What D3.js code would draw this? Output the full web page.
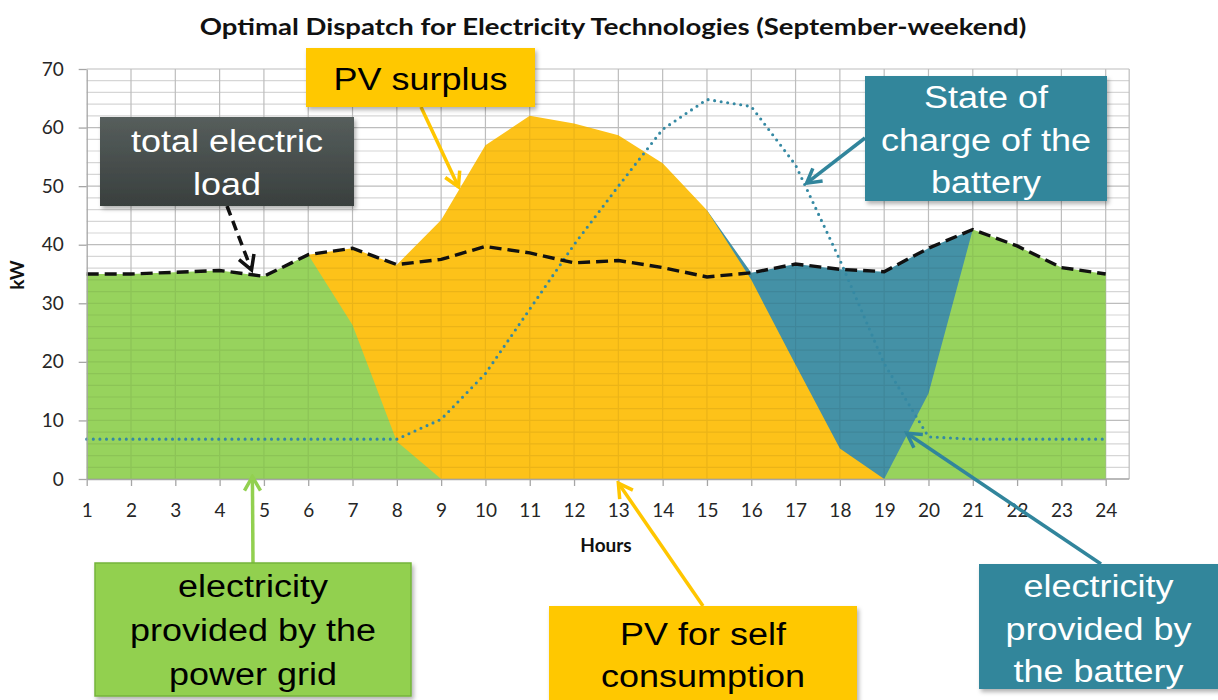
<!DOCTYPE html>
<html>
<head>
<meta charset="utf-8">
<script src="https://cdn.jsdelivr.net/npm/d3@7"></script>
<style>
  body { margin: 0; background: #fff; }
  svg { display: block; }
  .tick text { font-family: Lato, "Open Sans", sans-serif; font-size: 19px; fill: #262626; }
</style>
</head>
<body>
<div id="chart"></div>
<script>
// values (kW per hour)
var hours = d3.range(1, 25);
var yTicks = [0, 10, 20, 30, 40, 50, 60, 70];
var totalLoad = [35, 35, 35.3, 35.6, 34.6, 38.3, 39.4, 36.6, 37.5, 39.7, 38.6, 36.9,
                 37.3, 36.1, 34.5, 35.2, 36.7, 35.8, 35.4, 39.4, 42.6, 39.8, 36.1, 35];
var gridSupply = [35, 35, 35.3, 35.6, 34.6, 38.3, 26.3, 6.4, 0, 0, 0, 0,
                  0, 0, 0, 0, 0, 0, 0, 14.6, 42.6, 39.8, 36.1, 35];
var pvTotal = [0, 0, 0, 0, 0, 38.3, 39.4, 36.6, 44.2, 57, 62, 60.7,
               58.7, 53.9, 45.9, 34, 19.5, 5.2, 0, 0, 0, 0, 0, 0];
var batterySupply = [0, 0, 0, 0, 0, 0, 0, 0, 0, 0, 0, 0,
                     0, 0, 45.9, 35.2, 36.7, 35.8, 35.4, 39.4, 42.6, 0, 0, 0];
var stateOfCharge = [6.8, 6.8, 6.8, 6.8, 6.8, 6.8, 6.8, 6.8, 10.2, 18, 29, 40,
                     50, 59.7, 64.8, 63.6, 53.6, 37.4, 19.7, 7.2, 6.8, 6.8, 6.8, 6.8];

var width = 1218, height = 700;
var svg = d3.select("#chart").append("svg")
    .attr("width", width).attr("height", height);

var x = d3.scaleLinear().domain([1, 24]).range([86.7, 1105.7]);
var y = d3.scaleLinear().domain([0, 70]).range([479, 69]);
var xEnd = x(24.53);

var defs = svg.append("defs");
var shadow = defs.append("filter").attr("id", "shadow")
    .attr("x", "-10%").attr("y", "-10%").attr("width", "130%").attr("height", "140%");
shadow.append("feDropShadow").attr("dx", 2).attr("dy", 3).attr("stdDeviation", 2)
    .attr("flood-color", "#000").attr("flood-opacity", 0.3);
var grad = defs.append("linearGradient").attr("id", "darkbox")
    .attr("x1", 0).attr("y1", 0).attr("x2", 0).attr("y2", 1);
grad.append("stop").attr("offset", "0%").attr("stop-color", "#565e5c");
grad.append("stop").attr("offset", "100%").attr("stop-color", "#393f3e");

function arrowMarker(id, color) {
    defs.append("marker").attr("id", id)
        .attr("viewBox", "0 0 20 20").attr("refX", 17).attr("refY", 10)
        .attr("markerUnits", "userSpaceOnUse")
        .attr("markerWidth", 20).attr("markerHeight", 20)
        .attr("orient", "auto")
      .append("path").attr("d", "M3,2 L17,10 L3,18")
        .attr("fill", "none").attr("stroke", color).attr("stroke-width", 3.5);
}
arrowMarker("arrYellow", "#ffc600");
arrowMarker("arrBlack", "#111");
arrowMarker("arrTeal", "#31859c");
arrowMarker("arrGreen", "#92d050");

function areaOf(values) {
    return d3.area()
        .x(function (d, i) { return x(hours[i]); })
        .y0(y(0))
        .y1(function (d) { return y(d); })(values);
}

function drawGrid(g, minorColor, majorColor) {
    g.selectAll("line.h").data(d3.range(0, 71, 2)).enter().append("line")
        .attr("x1", x(1)).attr("x2", xEnd)
        .attr("y1", function (d) { return y(d); }).attr("y2", function (d) { return y(d); })
        .attr("stroke", function (d) { return d % 10 === 0 ? majorColor : minorColor; })
        .attr("stroke-width", 1.2);
    g.selectAll("line.v").data(hours.slice(1).concat([24.53])).enter().append("line")
        .attr("x1", function (d) { return x(d); }).attr("x2", function (d) { return x(d); })
        .attr("y1", y(70)).attr("y2", y(0))
        .attr("stroke", majorColor).attr("stroke-width", 1.2);
}

// gridlines on white
drawGrid(svg.append("g"), "#d6d6d6", "#bdbdbd");

// areas: battery, then PV, then grid on top
svg.append("path").attr("d", areaOf(batterySupply)).attr("fill", "#4491a6");
svg.append("path").attr("d", areaOf(pvTotal)).attr("fill", "#fdc219");
svg.append("path").attr("d", areaOf(gridSupply)).attr("fill", "#97d35d");

// faint gridlines showing through the filled areas
var clip = defs.append("clipPath").attr("id", "areaClip");
[batterySupply, pvTotal, gridSupply].forEach(function (v) {
    clip.append("path").attr("d", areaOf(v));
});
var overGrid = svg.append("g").attr("clip-path", "url(#areaClip)").attr("opacity", 0.07);
drawGrid(overGrid, "#000", "#000");

var line = d3.line().x(function (d, i) { return x(hours[i]); }).y(function (d) { return y(d); });
svg.append("path").attr("d", line(stateOfCharge))
    .attr("fill", "none").attr("stroke", "#3589a3").attr("stroke-width", 3.1)
    .attr("stroke-linecap", "round").attr("stroke-dasharray", "0,6.6");
svg.append("path").attr("d", line(totalLoad))
    .attr("fill", "none").attr("stroke", "#111").attr("stroke-width", 3.4)
    .attr("stroke-dasharray", "12,6");

// axes
var xAxis = svg.append("g").attr("transform", "translate(0," + y(0) + ")")
    .call(d3.axisBottom(x).tickValues(hours).tickSize(7).tickSizeOuter(0).tickPadding(18)
        .tickFormat(d3.format("d")));
var yAxis = svg.append("g").attr("transform", "translate(" + x(1) + ",0)")
    .call(d3.axisLeft(y).tickValues(yTicks).tickSize(8).tickSizeOuter(0).tickPadding(15));
[xAxis, yAxis].forEach(function (a) {
    a.select(".domain").attr("stroke", "#a6a6a6").attr("stroke-width", 1.3);
    a.selectAll(".tick line").attr("stroke", "#a6a6a6").attr("stroke-width", 1.3);
});
svg.append("line").attr("x1", x(24)).attr("x2", xEnd).attr("y1", y(0)).attr("y2", y(0))
    .attr("stroke", "#a6a6a6").attr("stroke-width", 1.3);

svg.append("text").text("Hours")
    .attr("x", 606).attr("y", 552).attr("text-anchor", "middle")
    .style("font-family", "Lato, sans-serif").style("font-weight", "bold").style("font-size", "19px")
    .attr("fill", "#111");
svg.append("text").text("kW")
    .attr("transform", "translate(24,275) rotate(-90)").attr("text-anchor", "middle")
    .style("font-family", "Lato, sans-serif").style("font-weight", "bold").style("font-size", "19px")
    .attr("fill", "#111");

// title, fitted to the reference width
var title = svg.append("text").text("Optimal Dispatch for Electricity Technologies (September-weekend)")
    .attr("text-anchor", "middle")
    .style("font-family", "Lato, sans-serif").style("font-weight", "bold").style("font-size", "22px")
    .attr("fill", "#111");
var tw = title.node().getComputedTextLength();
title.attr("transform", "translate(613,35) scale(" + (827 / tw) + ",1)");

// annotation boxes (layout in pixels) and arrows anchored in data space
var notes = [
    { lines: ["PV surplus"], box: [306, 48, 229, 59], fill: "#ffc800", color: "#000",
      base: [90], from: [421, 107], to: [9.39, 49.9], marker: "arrYellow", stroke: "#ffc600" },
    { lines: ["total electric", "load"], box: [100, 117, 254, 89], fill: "url(#darkbox)", color: "#fff",
      base: [152, 195], from: [227, 206], to: [4.72, 35.7], marker: "arrBlack", stroke: "#111", dash: "10,6" },
    { lines: ["State of", "charge of the", "battery"], box: [865, 76, 242, 125], fill: "#31869b", color: "#fff",
      base: [108, 151, 193], from: [865, 138], to: [17.25, 50.5], marker: "arrTeal", stroke: "#31859c" },
    { lines: ["electricity", "provided by the", "power grid"], box: [95, 563, 316, 133], fill: "#92d050", color: "#000",
      base: [597, 641, 685], from: [253, 563], to: [4.74, 0.4], marker: "arrGreen", stroke: "#92d050",
      border: "#74b43a" },
    { lines: ["PV for self", "consumption"], box: [549, 606, 308, 100], fill: "#ffc800", color: "#000",
      base: [645, 687], from: [703, 606], to: [13.0, -0.7], marker: "arrYellow", stroke: "#ffc600" },
    { lines: ["electricity", "provided by", "the battery"], box: [979, 564, 245, 125], fill: "#31869b", color: "#fff",
      base: [597, 640, 682], from: [1101, 564], to: [19.51, 7.8], marker: "arrTeal", stroke: "#31859c" }
];

var noteG = svg.append("g");
notes.forEach(function (n) {
    noteG.append("line")
        .attr("x1", n.from[0]).attr("y1", n.from[1])
        .attr("x2", x(n.to[0])).attr("y2", y(n.to[1]))
        .attr("stroke", n.stroke).attr("stroke-width", 3.5)
        .attr("stroke-dasharray", n.dash || null)
        .attr("marker-end", "url(#" + n.marker + ")");
});
notes.forEach(function (n) {
    var g = noteG.append("g");
    g.append("rect")
        .attr("x", n.box[0]).attr("y", n.box[1]).attr("width", n.box[2]).attr("height", n.box[3])
        .attr("fill", n.fill).attr("filter", "url(#shadow)")
        .attr("stroke", n.border || "none").attr("stroke-width", 1.5);
    var cx = n.box[0] + n.box[2] / 2;
    if (n.box[0] + n.box[2] > width) cx = n.box[0] + (width - n.box[0]) / 2;
    n.lines.forEach(function (t, i) {
        g.append("text").text(t)
            .attr("text-anchor", "middle")
            .attr("transform", "translate(" + cx + "," + n.base[i] + ") scale(1.16,1)")
            .style("font-family", "Liberation Sans, Arial, sans-serif").style("font-size", "31px")
            .attr("fill", n.color);
    });
});
</script>
</body>
</html>
